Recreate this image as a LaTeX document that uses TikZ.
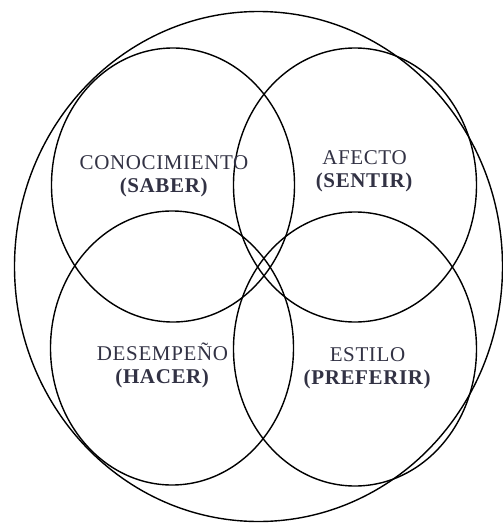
\documentclass[tikz,border=0pt]{standalone}
\usepackage{fontspec}
\setmainfont{Liberation Serif}[LetterSpace=3]
\definecolor{labelgray}{RGB}{50,50,68}

\begin{document}
\begin{tikzpicture}[x=1pt,y=-1pt,line width=1.4pt,
        area/.style={labelgray, align=center, font=\fontsize{21}{23}\selectfont}]
        \useasboundingbox (0,0) rectangle (503,523);
        % outer ring
        \draw (258.5,266.5) ellipse [x radius=244, y radius=255];
        % the four sets
        \draw (173,185) ellipse [x radius=121.5, y radius=137];
        \draw (355,185) ellipse [x radius=121.5, y radius=137];
        \draw (172,348) ellipse [x radius=121.5, y radius=137];
        \draw (355,349) ellipse [x radius=121.5, y radius=137];

        \node (saber) [area] at (164,176) {CONOCIMIENTO\\\textbf{(SABER)}};
        \node (sentir) [area] at (364.5,171.5) {AFECTO\\\textbf{(SENTIR)}};
        \node (hacer) [area] at (162.5,365.5) {DESEMPEÑO\\\textbf{(HACER)}};
        \node (preferir) [area] at (367.5,368) {ESTILO\\\textbf{(PREFERIR)}};
    \end{tikzpicture}
\end{document}
